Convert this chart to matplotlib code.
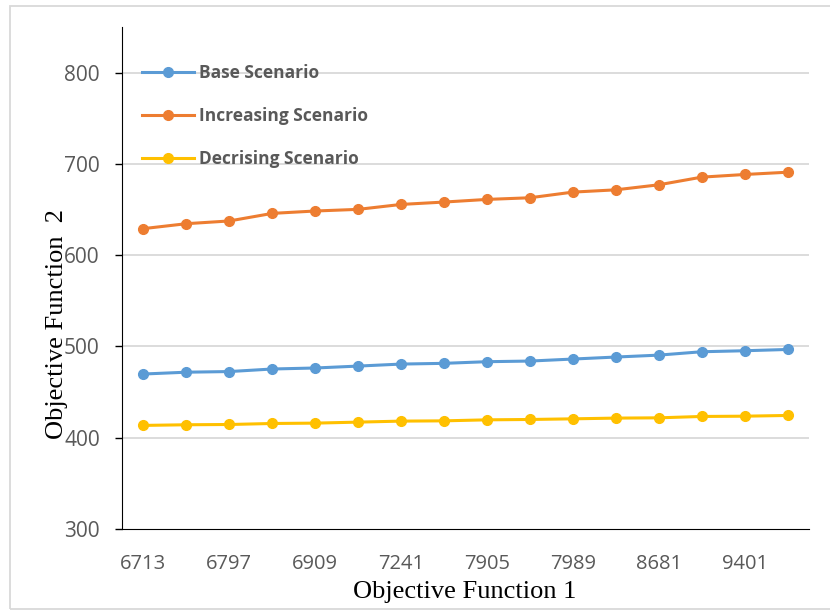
import matplotlib
matplotlib.use("Agg")
import matplotlib.pyplot as plt
from matplotlib.patches import Rectangle

tick_labels = ["6713", "6797", "6909", "7241", "7905", "7989", "8681", "9401"]
n_points = 16
base = [469.8, 471.8, 472.5, 475.3, 476.4, 478.5, 480.7, 481.5, 483.3, 484.0, 486.2, 488.4, 490.5, 494.2, 495.3, 496.7]
increasing = [629.1, 634.5, 637.5, 645.8, 648.4, 650.2, 655.6, 658.2, 661.1, 662.9, 669.1, 671.6, 677.1, 685.5, 688.4, 690.9]
decreasing = [413.5, 414.2, 414.5, 415.6, 416.0, 417.1, 418.2, 418.5, 419.6, 420.0, 420.7, 421.5, 421.8, 423.3, 423.6, 424.4]
series_names = ["Base Scenario", "Increasing Scenario", "Decrising Scenario"]
colors = ["#5B9BD5", "#ED7D31", "#FFC000"]

W, H = 830, 610
fig = plt.figure(figsize=(8.3, 6.1), dpi=100)
# light chart-area border (left/top/bottom visible, right off canvas)
fig.patches.append(Rectangle((10/W, 1-609/H), (834-10)/W, (609-6)/H, transform=fig.transFigure,
                             fill=False, edgecolor="#d9d9d9", linewidth=1.3))
ax = fig.add_axes([122/W, 1-529/H, (809-122)/W, (529-27)/H])

x = list(range(n_points))
for vals, name, c in zip([base, increasing, decreasing], series_names, colors):
    ax.plot(x, vals, color=c, linewidth=2.2, marker="o", markersize=7, label=name)

ax.set_xlim(-0.5, n_points - 0.5)
ax.set_ylim(300, 850)
ax.set_yticks([300, 400, 500, 600, 700, 800])
ax.set_xticks(list(range(0, n_points, 2)))
ax.set_xticklabels(tick_labels)
ax.tick_params(axis="x", length=0, pad=18, labelsize=14.5, labelcolor="#595959")
ax.tick_params(axis="y", length=5, width=1, direction="out", pad=11, labelsize=15, labelcolor="#595959")
for lab in ax.get_xticklabels() + ax.get_yticklabels():
    lab.set_family("Open Sans")
for y in [400, 500, 600, 700, 800]:
    ax.axhline(y, color="#d9d9d9", linewidth=1.3, zorder=0)
ax.spines["top"].set_visible(False)
ax.spines["right"].set_visible(False)
ax.spines["left"].set_color("black")
ax.spines["bottom"].set_color("black")

fig.text(57/W, 1-324/H, "Objective Function  2", rotation=90, ha="center", va="center",
         family="Liberation Serif", fontsize=19)
fig.text(465/W, 1-592/H, "Objective Function 1", ha="center", va="center",
         family="Liberation Serif", fontsize=19)

leg = fig.legend(*ax.get_legend_handles_labels(), loc="upper left",
                 bbox_to_anchor=(142/W, 1-64.5/H), bbox_transform=fig.transFigure,
                 frameon=False, borderpad=0, borderaxespad=0,
                 handlelength=3.0, handletextpad=0.3, labelspacing=1.42,
                 prop={"family": "Open Sans", "weight": "bold", "size": 12.5})
for t in leg.get_texts():
    t.set_color("#595959")

fig.savefig("out.png", dpi=100)
